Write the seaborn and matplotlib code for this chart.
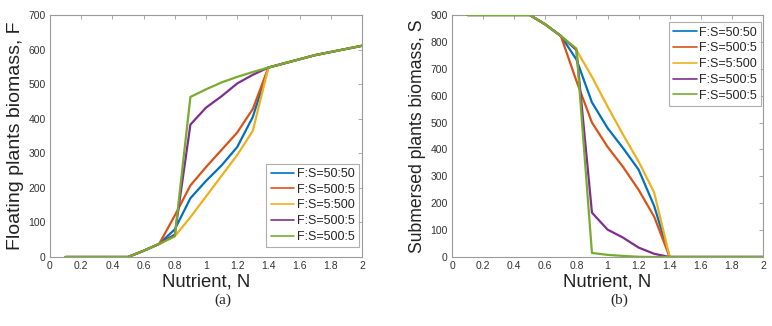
import numpy as np
import matplotlib
matplotlib.use("Agg")
import matplotlib.pyplot as plt
import seaborn as sns
from matplotlib.ticker import FuncFormatter

# nutrient grid
N = [0.1, 0.2, 0.3, 0.4, 0.5, 0.6, 0.7, 0.8, 0.9, 1.0,
     1.1, 1.2, 1.3, 1.4, 1.5, 1.6, 1.7, 1.8, 1.9, 2.0]

labels = ["F:S=50:50", "F:S=500:5", "F:S=5:500", "F:S=500:5", "F:S=500:5"]
colors = ["#0072BD", "#D95319", "#EDB120", "#7E2F8E", "#77AC30"]

tail_F = [560, 572, 584, 593, 602, 611]
F_5050 = [0, 0, 0, 0, 0, 18, 38, 80, 170, 220, 265, 318, 405, 548] + tail_F
F_500a = [0, 0, 0, 0, 0, 18, 38, 120, 207, 260, 310, 360, 428, 548] + tail_F
F_5500 = [0, 0, 0, 0, 0, 18, 38, 60, 115, 175, 235, 295, 365, 548] + tail_F
F_500b = [0, 0, 0, 0, 0, 18, 38, 65, 383, 432, 465, 502, 527, 548] + tail_F
F_500c = [0, 0, 0, 0, 0, 18, 38, 60, 463, 485, 505, 521, 535, 548] + tail_F

tail_S = [0, 0, 0, 0, 0, 0]
S_5050 = [900, 900, 900, 900, 900, 865, 822, 735, 575, 480, 405, 325, 190, 0] + tail_S
S_500a = [900, 900, 900, 900, 900, 865, 822, 655, 500, 410, 335, 250, 150, 0] + tail_S
S_5500 = [900, 900, 900, 900, 900, 865, 822, 770, 670, 560, 455, 355, 240, 0] + tail_S
S_500b = [900, 900, 900, 900, 900, 865, 822, 770, 165, 102, 72, 35, 12, 0] + tail_S
S_500c = [900, 900, 900, 900, 900, 865, 822, 775, 15, 8, 4, 1, 0, 0] + tail_S

F_series = [F_5050, F_500a, F_5500, F_500b, F_500c]
S_series = [S_5050, S_500a, S_5500, S_500b, S_500c]

sns.set_style("white")
plt.rcParams['font.family'] = ['Liberation Sans', 'DejaVu Sans']

fig = plt.figure(figsize=(7.72, 3.26), dpi=100)
ax1 = fig.add_axes([50 / 772, 1 - 257 / 326, 312 / 772, 242 / 326])
ax2 = fig.add_axes([452 / 772, 1 - 257 / 326, 311 / 772, 242 / 326])

fmt = FuncFormatter(lambda v, p: f"{v:g}")


def style(ax, ymax, ystep, ylabel, ysize):
    ax.set_xlim(0, 2)
    ax.set_ylim(0, ymax)
    ax.set_xticks(np.arange(0, 2.01, 0.2))
    ax.set_yticks(np.arange(0, ymax + 1, ystep))
    ax.xaxis.set_major_formatter(fmt)
    ax.tick_params(axis='both', direction='in', length=3, width=0.6,
                   colors='#9a9a9a', labelcolor='#333333', labelsize=7.5,
                   top=True, right=True, pad=3)
    for s in ax.spines.values():
        s.set_visible(True)
        s.set_edgecolor('#9a9a9a')
        s.set_linewidth(0.8)
        s.set_zorder(1)
    ax.set_xlabel("Nutrient, N", fontsize=13.3, color='#222222', labelpad=2)
    ax.set_ylabel(ylabel, fontsize=ysize, color='#222222', labelpad=3)


for vals, lab, col in zip(F_series, labels, colors):
    sns.lineplot(ax=ax1, x=N, y=vals, color=col, label=lab, linewidth=1.6)
for vals, lab, col in zip(S_series, labels, colors):
    sns.lineplot(ax=ax2, x=N, y=vals, color=col, label=lab, linewidth=1.6)

style(ax1, 700, 100, "Floating plants biomass, F", 14)
style(ax2, 900, 100, "Submersed plants biomass, S", 12.7)

for ax, loc, anchor in [(ax1, 'lower right', (0.99, 0.04)),
                        (ax2, 'upper right', (0.995, 0.97))]:
    leg = ax.legend(loc=loc, bbox_to_anchor=anchor, borderaxespad=0,
                    fontsize=9, frameon=True, fancybox=False,
                    handlelength=1.9, handletextpad=0.2, labelspacing=0.3,
                    borderpad=0.35)
    leg.get_frame().set_edgecolor('#9a9a9a')
    leg.get_frame().set_linewidth(0.8)
    for h in leg.get_lines():
        h.set_linewidth(1.2)

fig.text(223 / 772, 1 - 300 / 326, "(a)", family='Liberation Serif',
         fontsize=11, ha='center', va='center')
fig.text(619 / 772, 1 - 300 / 326, "(b)", family='Liberation Serif',
         fontsize=11, ha='center', va='center')

fig.savefig("out.png", dpi=100)
